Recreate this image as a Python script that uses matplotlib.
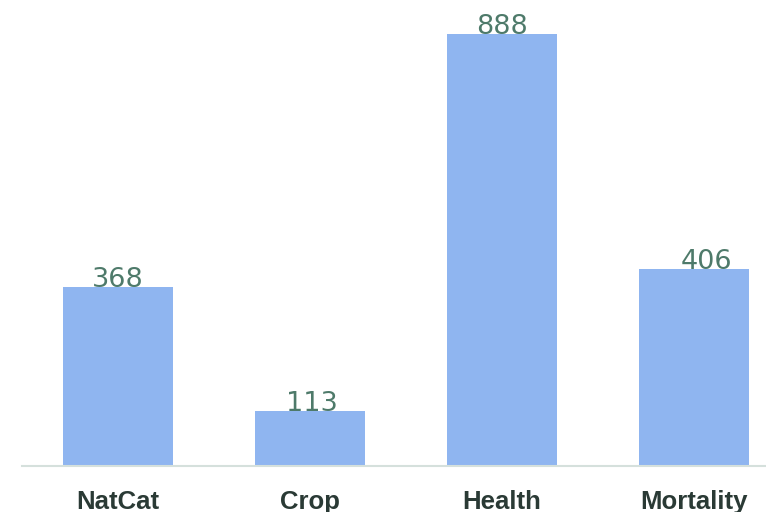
import matplotlib
matplotlib.use("Agg")
import matplotlib.pyplot as plt

categories = ["NatCat", "Crop", "Health", "Mortality"]
values = [368, 113, 888, 406]

fig = plt.figure(figsize=(7.66, 5.12), dpi=100)
ax = fig.add_axes([22/766, 46/512, 1 - 22/766, 1 - 46/512])
x = list(range(len(categories)))
ax.bar(x, values, width=0.573, color="#8fb5f0")
offsets = [0, 2, 0, 13]
for xi, v, off in zip(x, values, offsets):
    ax.annotate(str(v), (xi, v), xytext=(off * 0.72, 0), textcoords="offset points",
                ha="center", va="baseline", fontsize=19.5,
                family="DejaVu Sans", color="#4e7a6a")
ax.set_xlim(-0.5, 3.375)
ax.set_ylim(0, 958)
ax.set_xticks(x)
ax.set_xticklabels(categories, family="Liberation Sans", fontweight="bold",
                   fontsize=18.5, color="#2a3a35")
ax.tick_params(axis="x", length=0, pad=17)
ax.set_yticks([])
for s in ["top", "right", "left"]:
    ax.spines[s].set_visible(False)
ax.spines["bottom"].set_color("#d5e0dc")
ax.spines["bottom"].set_linewidth(1.5)
fig.savefig("out.png", dpi=100)
